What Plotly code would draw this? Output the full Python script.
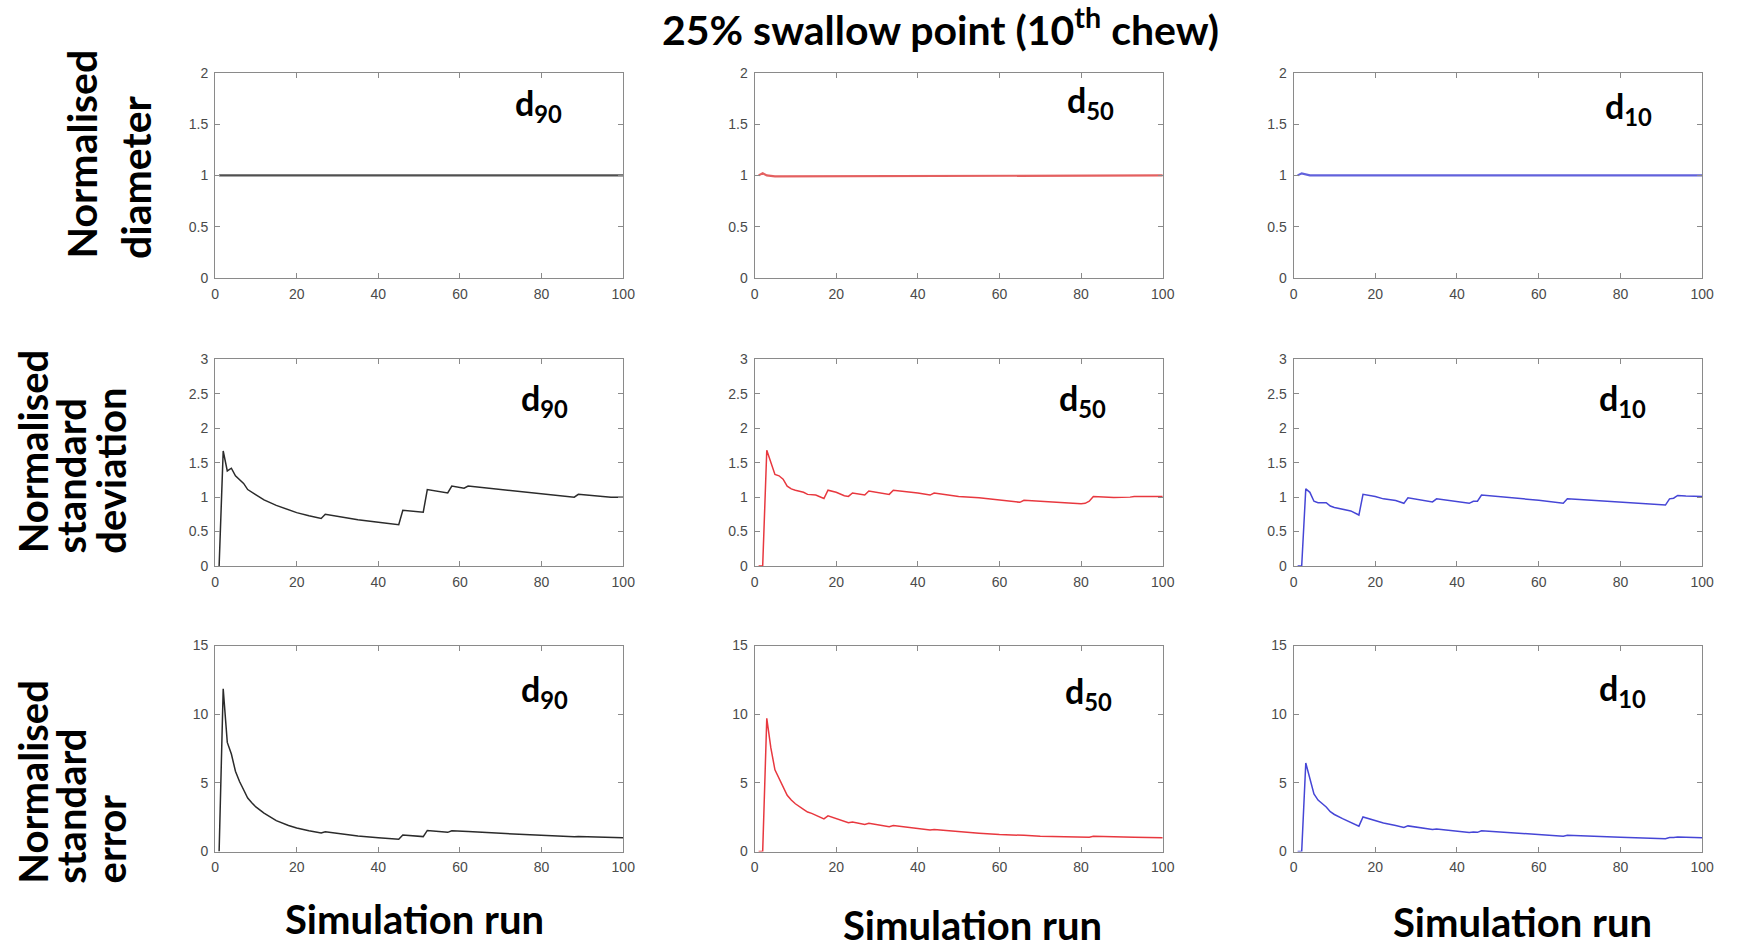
import plotly.graph_objects as go

# ---- data: simulation run index and normalised statistics ----
# Row 1: normalised mean diameter
run_diam_d90 = [1, 100]
diam_d90 = [1.0, 1.0]
run_diam_d50 = [1, 2, 3, 5, 100]
diam_d50 = [1.0, 1.02, 1.0, 0.99, 1.0]
run_diam_d10 = [1, 2, 4, 100]
diam_d10 = [1.0, 1.02, 1.0, 1.0]

# Row 2: normalised standard deviation
run_sd_d90 = [1, 2, 3, 4, 5, 6, 7, 8, 9, 10, 12, 15, 18, 20, 23, 26, 27, 30, 35, 40,
              45, 46, 51, 52, 57, 58, 61, 62, 70, 80, 88, 89, 97, 100]
sd_d90 = [0, 1.67, 1.38, 1.42, 1.31, 1.25, 1.20, 1.11, 1.07, 1.03, 0.96, 0.88, 0.81,
          0.775, 0.73, 0.69, 0.75, 0.72, 0.67, 0.635, 0.60, 0.81, 0.78, 1.11, 1.06,
          1.16, 1.13, 1.16, 1.11, 1.05, 1.00, 1.04, 1.00, 1.00]

run_sd_d50 = [1, 2, 3, 4, 5, 6, 7, 8, 9, 10, 12, 13, 14, 15, 17, 18, 20, 22, 23, 24,
              27, 28, 33, 34, 40, 43, 44, 50, 55, 60, 65, 66, 70, 75, 80, 81, 82, 83,
              88, 92, 93, 100]
sd_d50 = [0, 0, 1.68, 1.51, 1.33, 1.31, 1.26, 1.16, 1.12, 1.10, 1.07, 1.04, 1.04, 1.03,
          0.98, 1.10, 1.07, 1.02, 1.01, 1.06, 1.03, 1.09, 1.04, 1.10, 1.06, 1.03, 1.06,
          1.01, 0.99, 0.96, 0.925, 0.955, 0.94, 0.93, 0.905, 0.91, 0.94, 1.01, 0.995,
          1.0, 1.01, 1.01]

run_sd_d10 = [1, 2, 3, 4, 5, 6, 8, 9, 10, 12, 13, 14, 16, 17, 20, 22, 25, 27, 28, 31,
              34, 35, 40, 42, 43, 44, 45, 46, 50, 60, 66, 67, 70, 80, 91, 92, 93, 94,
              96, 100]
sd_d10 = [0, 0, 1.12, 1.07, 0.94, 0.92, 0.92, 0.87, 0.85, 0.83, 0.82, 0.80, 0.74, 1.04,
          1.01, 0.975, 0.95, 0.91, 0.99, 0.965, 0.93, 0.975, 0.935, 0.91, 0.91, 0.94,
          0.94, 1.03, 1.01, 0.955, 0.91, 0.975, 0.965, 0.93, 0.885, 0.975, 0.985,
          1.025, 1.015, 1.01]

# Row 3: normalised standard error
run_se_d90 = run_sd_d90
se_d90 = [0, 11.85, 7.95, 7.1, 5.85, 5.1, 4.5, 3.9, 3.55, 3.25, 2.8, 2.25, 1.9, 1.72,
          1.52, 1.35, 1.44, 1.31, 1.13, 1.0, 0.89, 1.2, 1.09, 1.54, 1.4, 1.52, 1.45,
          1.47, 1.33, 1.17, 1.07, 1.1, 1.02, 1.0]

run_se_d50 = run_sd_d50
se_d50 = [0, 0, 9.7, 7.55, 5.95, 5.35, 4.75, 4.1, 3.75, 3.48, 3.08, 2.88, 2.78, 2.66,
          2.38, 2.6, 2.4, 2.18, 2.1, 2.16, 1.98, 2.06, 1.81, 1.89, 1.68, 1.57, 1.6,
          1.43, 1.33, 1.24, 1.15, 1.18, 1.12, 1.07, 1.01, 1.01, 1.04, 1.11, 1.06,
          1.04, 1.05, 1.01]

run_se_d10 = run_sd_d10
se_d10 = [0, 0, 6.45, 5.35, 4.2, 3.75, 3.25, 2.9, 2.7, 2.4, 2.27, 2.14, 1.85, 2.52,
          2.26, 2.08, 1.9, 1.75, 1.87, 1.73, 1.6, 1.65, 1.48, 1.4, 1.39, 1.42, 1.4,
          1.52, 1.43, 1.23, 1.12, 1.19, 1.15, 1.04, 0.93, 1.02, 1.02, 1.06, 1.04, 1.01]

panel_labels = ["d<sub>90</sub>", "d<sub>50</sub>", "d<sub>10</sub>"]
row_titles = [["Normalised", "diameter"],
              ["Normalised", "standard", "deviation"],
              ["Normalised", "standard", "error"]]
x_title = "Simulation run"
main_title = "25% swallow point (10<sup>th</sup> chew)"

x_ticks = [0, 20, 40, 60, 80, 100]
y_ticks = [[0, 0.5, 1, 1.5, 2], [0, 0.5, 1, 1.5, 2, 2.5, 3], [0, 5, 10, 15]]
y_ranges = [[0, 2], [0, 3], [0, 15]]

# ---- layout geometry (pixels) ----
W, H = 1738, 951
col_px = [(213, 625), (757.5, 1169.5), (1301.5, 1714)]
row_px = [(66, 274.5), (357.5, 567.5), (648.5, 858)]

col_colors = ["#2b2b2b", "#e8383f", "#4646d6"]
row1_colors = ["#505050", "#e46060", "#6262dc"]

series = [
    [(run_diam_d90, diam_d90), (run_diam_d50, diam_d50), (run_diam_d10, diam_d10)],
    [(run_sd_d90, sd_d90), (run_sd_d50, sd_d50), (run_sd_d10, sd_d10)],
    [(run_se_d90, se_d90), (run_se_d50, se_d50), (run_se_d10, se_d10)],
]

fig = go.Figure()

axis_style = dict(
    showgrid=False, zeroline=False, showline=True, linecolor="#8a8a8a", linewidth=1,
    mirror="ticks", ticks="inside", ticklen=5, tickcolor="#8a8a8a",
    tickfont=dict(family="Liberation Sans, Arial, sans-serif", size=14, color="#4a4a4a"),
)

label_font = "Lato, 'Open Sans', sans-serif"

for r in range(3):
    for c in range(3):
        k = r * 3 + c + 1
        xname = "x" if k == 1 else f"x{k}"
        yname = "y" if k == 1 else f"y{k}"
        xs, ys = series[r][c]
        color = row1_colors[c] if r == 0 else col_colors[c]
        width = 2.2 if r == 0 else 1.5
        fig.add_trace(go.Scatter(
            x=xs, y=ys, mode="lines", xaxis=xname, yaxis=yname,
            line=dict(color=color, width=width), showlegend=False, hoverinfo="skip",
        ))
        x0, x1 = col_px[c]
        ytop, ybot = row_px[r]
        xaxis = dict(axis_style, domain=[x0 / W, x1 / W], range=[0, 100],
                     tickvals=x_ticks, anchor=yname, ticklabelstandoff=3)
        yaxis = dict(axis_style, domain=[1 - ybot / H, 1 - ytop / H],
                     range=y_ranges[r], tickvals=y_ticks[r], anchor=xname,
                     ticklabelstandoff=3)
        fig.update_layout({("xaxis" if k == 1 else f"xaxis{k}"): xaxis,
                           ("yaxis" if k == 1 else f"yaxis{k}"): yaxis})

annotations = []

# panel labels (d90 / d50 / d10)
panel_pos = [
    [(539, 99), (1097, 96), (1640, 102)],
    [(546, 399), (1089, 399), (1634, 399)],
    [(546, 695), (1095, 697), (1634, 694)],
]
for r in range(3):
    for c in range(3):
        px, py = panel_pos[r][c]
        annotations.append(dict(
            text=panel_labels[c], x=px / W, y=1 - py / H, xref="paper", yref="paper",
            xanchor="center", yanchor="middle", showarrow=False,
            font=dict(family=label_font, size=34, color="#000000", weight="bold"),
        ))

# row titles, one rotated line each, starting from a common bottom edge
row_line_x = [[78, 132], [29, 68, 108], [29, 68, 108]]
row_bottom = [257, 557, 893]
row_font = [41, 40, 40]
for r in range(3):
    for i, line in enumerate(row_titles[r]):
        annotations.append(dict(
            text=line, x=row_line_x[r][i] / W, y=1 - row_bottom[r] / H,
            xref="paper", yref="paper", xanchor="center", yanchor="bottom",
            textangle=-90, showarrow=False,
            font=dict(family=label_font, size=row_font[r], color="#000000",
                      weight="bold"),
        ))

# x titles under each column
xt_pos = [(414, 927), (977, 933), (1533, 930)]
for px, py in xt_pos:
    annotations.append(dict(
        text=x_title, x=px / W, y=1 - py / H, xref="paper", yref="paper",
        xanchor="center", yanchor="middle", showarrow=False,
        font=dict(family=label_font, size=40, color="#000000", weight="bold"),
    ))

# figure title
annotations.append(dict(
    text=main_title, x=945 / W, y=1 - 19 / H, xref="paper", yref="paper",
    xanchor="center", yanchor="middle", showarrow=False,
    font=dict(family=label_font, size=41, color="#000000", weight="bold"),
))

fig.update_layout(
    width=W, height=H, margin=dict(l=0, r=0, t=0, b=0),
    paper_bgcolor="white", plot_bgcolor="white",
    annotations=annotations, showlegend=False,
)

fig.write_html("out.html")
